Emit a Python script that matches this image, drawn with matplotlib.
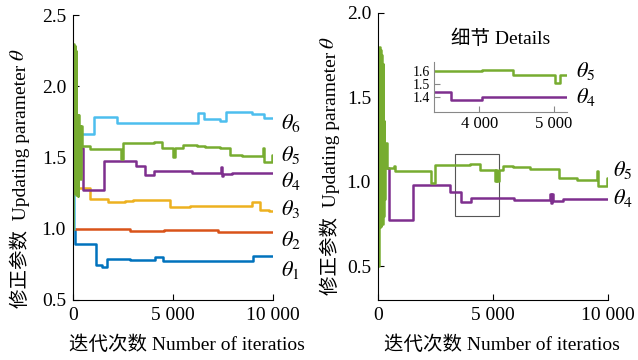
import matplotlib
matplotlib.use("Agg")
import matplotlib.pyplot as plt
from matplotlib.ticker import FuncFormatter
from matplotlib.patches import Rectangle

plt.rcParams['font.family'] = ['Liberation Serif', 'Noto Sans CJK SC', 'DejaVu Sans']
plt.rcParams['mathtext.fontset'] = 'stix'

# ---- left panel: six updating parameters ----
theta1_x = [0, 100, 1150, 1433, 1683, 2850, 4100, 4500, 9000, 10000]
theta1_y = [1.0, 0.89, 0.746, 0.734, 0.788, 0.781, 0.804, 0.776, 0.81, 0.81]

theta2_x = [0, 2850, 4560, 7250, 10000]
theta2_y = [1.0, 0.986, 0.99, 0.98, 0.98]

theta3_x = [150, 850, 1750, 2600, 3000, 4850, 5850, 8930, 9350, 9800, 10000]
theta3_y = [1.286, 1.21, 1.187, 1.196, 1.203, 1.15, 1.16, 1.19, 1.13, 1.125, 1.125]

theta4_x = [420, 500, 1550, 3150, 3620, 4030, 5933, 7417, 7470, 7520, 7950, 10000]
theta4_y = [1.567, 1.272, 1.475, 1.44, 1.377, 1.403, 1.393, 1.43, 1.37, 1.387, 1.393, 1.393]

theta5_x = [0, 20, 50, 80, 110, 140, 170, 190, 230, 260, 300, 330, 370, 400, 440,
            850, 2400, 2500, 4040, 4449, 5013, 5080, 5500, 6183, 6600, 7350, 7850,
            8433, 9480, 9540, 9950, 10000]
theta5_y = [1.0, 2.3, 1.3, 2.28, 1.25, 2.25, 1.24, 1.8, 1.23, 1.8, 1.4, 1.72, 1.35, 1.72, 1.58,
            1.557, 1.49, 1.6, 1.607, 1.568, 1.507, 1.568, 1.587, 1.58, 1.575, 1.568, 1.517,
            1.51, 1.564, 1.47, 1.517, 1.517]

theta6_x = [0, 30, 1067, 2217, 6233, 6550, 7350, 7633, 8933, 9550, 10000]
theta6_y = [1.0, 1.665, 1.782, 1.744, 1.81, 1.773, 1.758, 1.822, 1.805, 1.777, 1.777]

# ---- right panel: theta4 and theta5 ----
r_theta4_x = [450, 480, 1507, 3130, 3594, 4029, 5928, 7478, 7530, 7580, 7620, 8029, 10000]
r_theta4_y = [1.08, 0.772, 0.983, 0.94, 0.879, 0.905, 0.895, 0.93, 0.875, 0.93, 0.885, 0.899, 0.899]

r_theta5_x = [0, 15, 40, 70, 95, 120, 150, 175, 200, 225, 250, 280, 320, 390, 680, 760,
              2304, 2478, 4000, 4435, 5090, 5150, 5180, 5270, 5449, 5884, 6609, 7884,
              8638, 9520, 9580, 9960, 10000]
r_theta5_y = [1.0, 0.5, 1.8, 0.73, 1.78, 0.74, 1.75, 0.75, 1.7, 0.8, 1.36, 0.9, 1.23, 1.082, 1.096, 1.066,
              0.993, 1.102, 1.106, 1.072, 1.003, 1.07, 1.003, 1.072, 1.092, 1.086, 1.076, 1.023,
              1.013, 1.066, 0.973, 1.02, 1.02]

c_blue = '#0072BD'
c_red = '#D95319'
c_orange = '#EDB120'
c_purple = '#7E2F8E'
c_green = '#77AC30'
c_cyan = '#4DBEEE'

xticks_main = [0, 5000, 10000]
inset_xticks = [4000, 5000]
inset_yticks = [1.4, 1.5, 1.6]

XLABEL = '迭代次数 Number of iteratios'
YLABEL = '修正参数  Updating parameter'
FS = 14


def thousands(v, pos=None):
    return f"{int(round(v)):,}".replace(",", " ")


def style_axes(ax):
    for s in ('top', 'right'):
        ax.spines[s].set_visible(False)
    ax.tick_params(direction='in', length=4, labelsize=FS, pad=5)
    ax.xaxis.set_major_formatter(FuncFormatter(thousands))
    ax.yaxis.set_major_formatter(FuncFormatter(lambda v, p: f"{v:.1f}"))


fig = plt.figure(figsize=(6.38, 3.6), dpi=100)
LW = 1.8

ax1 = fig.add_axes([73 / 638, 60 / 360, 200 / 638, 285 / 360])
ax1.step(theta1_x, theta1_y, where='post', color=c_blue, lw=LW)
ax1.step(theta2_x, theta2_y, where='post', color=c_red, lw=LW)
ax1.step(theta3_x, theta3_y, where='post', color=c_orange, lw=LW)
ax1.step(theta4_x, theta4_y, where='post', color=c_purple, lw=LW)
ax1.step(theta6_x, theta6_y, where='post', color=c_cyan, lw=LW)
ax1.step(theta5_x, theta5_y, where='post', color=c_green, lw=LW)
ax1.set_xlim(0, 10000)
ax1.set_ylim(0.5, 2.5)
ax1.set_xticks(xticks_main)
ax1.set_yticks([0.5, 1.0, 1.5, 2.0, 2.5])
style_axes(ax1)
for lab, yv in [(r'$\theta_6$', 1.742), (r'$\theta_5$', 1.517), (r'$\theta_4$', 1.335),
                (r'$\theta_3$', 1.139), (r'$\theta_2$', 0.921), (r'$\theta_1$', 0.711)]:
    ax1.text(10400, yv, lab, fontsize=16, va='center', ha='left', clip_on=False)
ax1.set_xlabel(XLABEL, fontsize=FS)
ax1.xaxis.label.set_va('center')
ax1.xaxis.set_label_coords(0.57, -0.158)
ax1.set_ylabel(YLABEL, fontsize=FS)
ax1.yaxis.label.set_va('center')
ax1.yaxis.set_label_coords(-0.265, 0.40)

ax2 = fig.add_axes([378 / 638, 60 / 360, 230 / 638, 287 / 360])
ax2.step(r_theta4_x, r_theta4_y, where='post', color=c_purple, lw=LW)
ax2.step(r_theta5_x, r_theta5_y, where='post', color=c_green, lw=LW)
ax2.set_xlim(0, 10000)
ax2.set_ylim(0.3, 2.0)
ax2.set_xticks(xticks_main)
ax2.set_yticks([0.5, 1.0, 1.5, 2.0])
style_axes(ax2)
ax2.text(10200, 1.07, r'$\theta_5$', fontsize=16, va='center', ha='left', clip_on=False)
ax2.text(10200, 0.905, r'$\theta_4$', fontsize=16, va='center', ha='left', clip_on=False)
ax2.add_patch(Rectangle((3350, 0.80), 1910, 0.365, fill=False, edgecolor='#555555', lw=0.8))
ax2.set_xlabel(XLABEL, fontsize=FS)
ax2.xaxis.label.set_va('center')
ax2.xaxis.set_label_coords(0.539, -0.157)
ax2.set_ylabel(YLABEL, fontsize=FS)
ax2.yaxis.label.set_va('center')
ax2.yaxis.set_label_coords(-0.209, 0.44)

# zoomed detail of theta4 / theta5
axi = fig.add_axes([434 / 638, 248 / 360, 133 / 638, 50 / 360])
axi.step(theta4_x, theta4_y, where='post', color=c_purple, lw=LW)
axi.step(theta5_x, theta5_y, where='post', color=c_green, lw=LW)
axi.set_xlim(3390, 5175)
axi.set_ylim(1.29, 1.665)
axi.set_xticks(inset_xticks)
axi.set_yticks(inset_yticks)
style_axes(axi)
for s in ('left', 'bottom'):
    axi.spines[s].set_color('#888888')
axi.tick_params(colors='#888888', labelcolor='black', pad=3, labelsize=12)
axi.tick_params(axis='y', labelsize=10)
axi.text(5290, 1.6, r'$\theta_5$', fontsize=16, va='center', ha='left', clip_on=False)
axi.text(5290, 1.405, r'$\theta_4$', fontsize=16, va='center', ha='left', clip_on=False)
axi.set_title('细节 Details', fontsize=FS, pad=13)

# italic theta appended to each rotated y label
fig.canvas.draw()
inv = fig.transFigure.inverted()
for ax in (ax1, ax2):
    bb = ax.yaxis.label.get_window_extent()
    (x0, y0), (x1, y1) = inv.transform([[bb.x0, bb.y0], [bb.x1, bb.y1]])
    fig.text((x0 + x1) / 2, y1 + 3 / 360, r'$\theta$', fontsize=FS + 1,
             rotation=90, ha='center', va='bottom')

fig.savefig('out.png', dpi=100)
